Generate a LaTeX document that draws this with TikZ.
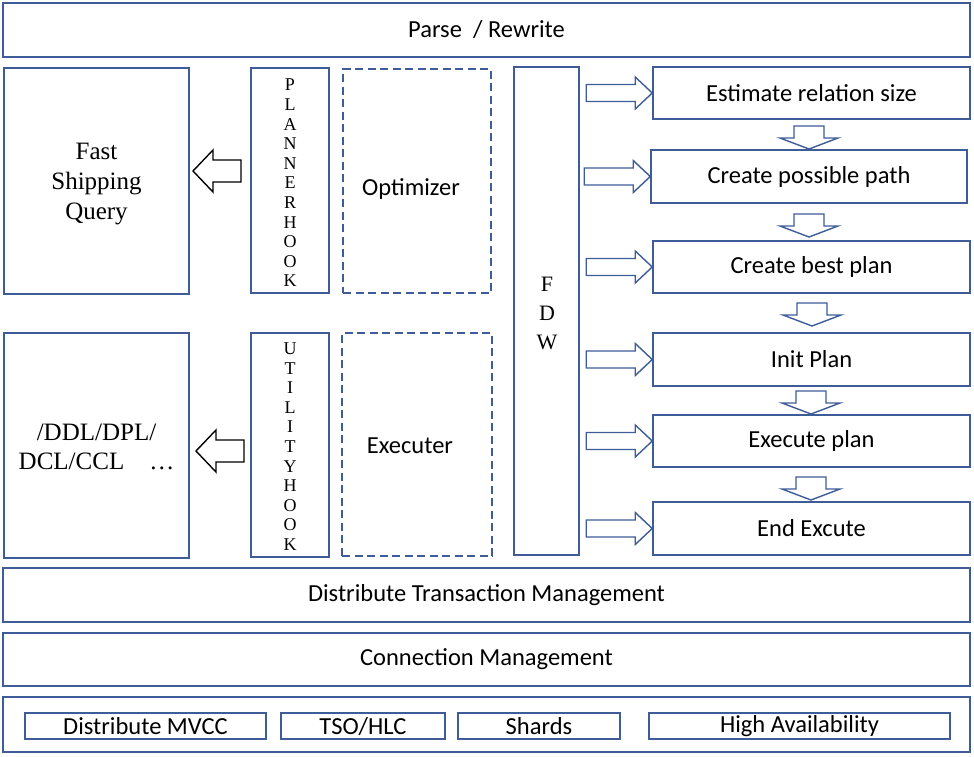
\documentclass[tikz,border=0pt]{standalone}
\usepackage{fontspec}
\setmainfont{Carlito}
\newfontfamily\serifx{Liberation Serif}
\definecolor{boxcol}{RGB}{62,92,152}
\tikzset{
  bx/.style={draw=boxcol, line width=1.5pt, fill=white, inner sep=0pt, font=\fontsize{24.5}{28}\selectfont},
  dbx/.style={bx, dash pattern=on 8pt off 4.5pt},
  lbl/.style={inner sep=0pt, font=\fontsize{24.5}{28}\selectfont},
  sbl/.style={inner sep=0pt, align=center, font=\serifx\fontsize{25}{30}\selectfont},
  vlet/.style={inner sep=0pt, align=center, font=\serifx\fontsize{18}{19.6}\selectfont},
  blarr/.style={draw=boxcol, line width=1.4pt, fill=white, line join=miter},
  bkarr/.style={draw=black, line width=1.4pt, fill=white, line join=miter},
  rarr/.pic={\draw[blarr] (-66,-8.5) -- (-17,-8.5) -- (-17,-16) -- (0,0) -- (-17,16) -- (-17,8.5) -- (-66,8.5) -- cycle;},
  darr/.pic={\draw[blarr] (-15,-23) -- (15,-23) -- (15,-11) -- (29,-11) -- (0,0) -- (-29,-11) -- (-15,-11) -- cycle;},
  larr/.pic={\draw[bkarr] (0,0) -- (20,-21) -- (20,-11) -- (48,-11) -- (48,11) -- (20,11) -- (20,21) -- cycle;}
}
\begin{document}
\begin{tikzpicture}[x=1pt,y=-1pt]
\useasboundingbox (0,0) rectangle (974,756);
% top
\node[bx, minimum width=967, minimum height=54] (parse) at (486.5,30) {Parse \ / Rewrite};
% left column
\node[bx, minimum width=185, minimum height=226] (fsq) at (96.5,181) {};
\node[sbl] (fsqt) at (96.5,184.5) {Fast\\Shipping\\Query};
\node[bx, minimum width=185, minimum height=225] (ddl) at (96.5,445.5) {};
\node[sbl, font=\serifx\fontsize{25}{29}\selectfont] (ddlt) at (96.5,447) {/DDL/DPL/\\DCL/CCL \ \ \ \ldots};
% hooks
\node[bx, minimum width=78, minimum height=225] (plh) at (290,180.5) {};
\node[vlet] (plht) at (290,183) {P\\L\\A\\N\\N\\E\\R\\H\\O\\O\\K};
\node[bx, minimum width=78, minimum height=224] (uth) at (290,445) {};
\node[vlet] (utht) at (290,446.5) {U\\T\\I\\L\\I\\T\\Y\\H\\O\\O\\K};
% dashed
\node[dbx, minimum width=148, minimum height=224] (opt) at (417,181) {};
\node[lbl] (optt) at (411,189) {Optimizer};
\node[dbx, minimum width=150, minimum height=223] (exe) at (417,444.5) {};
\node[lbl] (exet) at (410,446) {Executer};
% FDW
\node[bx, minimum width=65, minimum height=488] (fdw) at (546.5,311) {};
\node[inner sep=0pt, align=center, font=\serifx\fontsize{22}{29}\selectfont] (fdwt) at (547,313) {F\\D\\W};
% right boxes
\node[bx, minimum width=317, minimum height=52] (e1) at (811.5,93) {Estimate relation size};
\node[bx, minimum width=316, minimum height=53] (e2) at (809,176.5) {Create possible path};
\node[bx, minimum width=317, minimum height=52] (e3) at (811.5,267) {Create best plan};
\node[bx, minimum width=317, minimum height=53] (e4) at (811.5,359.5) {Init Plan};
\node[bx, minimum width=317, minimum height=52] (e5) at (811.5,441) {Execute plan};
\node[bx, minimum width=317, minimum height=53] (e6) at (811.5,528.5) {End Excute};
% bottom layers
\node[bx, minimum width=967, minimum height=54] (dtm) at (486.5,595) {Distribute Transaction Management};
\node[bx, minimum width=967, minimum height=53] (cm) at (486.5,659.5) {Connection Management};
\node[bx, minimum width=967, minimum height=55] (bot) at (486.5,724.5) {};
\node[bx, minimum width=241, minimum height=26] (b1) at (145.5,726) {Distribute MVCC};
\node[bx, minimum width=164, minimum height=26] (b2) at (363,726) {TSO/HLC};
\node[bx, minimum width=162, minimum height=26] (b3) at (539,726) {Shards};
\node[bx, minimum width=301, minimum height=26] (b4) at (799.5,726) {High Availability};
% arrows FDW -> steps
\pic at (e1.west) {rarr};
\pic at (e2.west) {rarr};
\pic at (e3.west) {rarr};
\pic at (e4.west) {rarr};
\pic at (e5.west) {rarr};
\pic at (e6.west) {rarr};
% down arrows
\pic at (809,149) {darr};
\pic at (809,237) {darr};
\pic at (812,326) {darr};
\pic at (811,414) {darr};
\pic at (811,500) {darr};
% left arrows
\pic at (193,171) {larr};
\pic at (196,451) {larr};
\end{tikzpicture}
\end{document}
